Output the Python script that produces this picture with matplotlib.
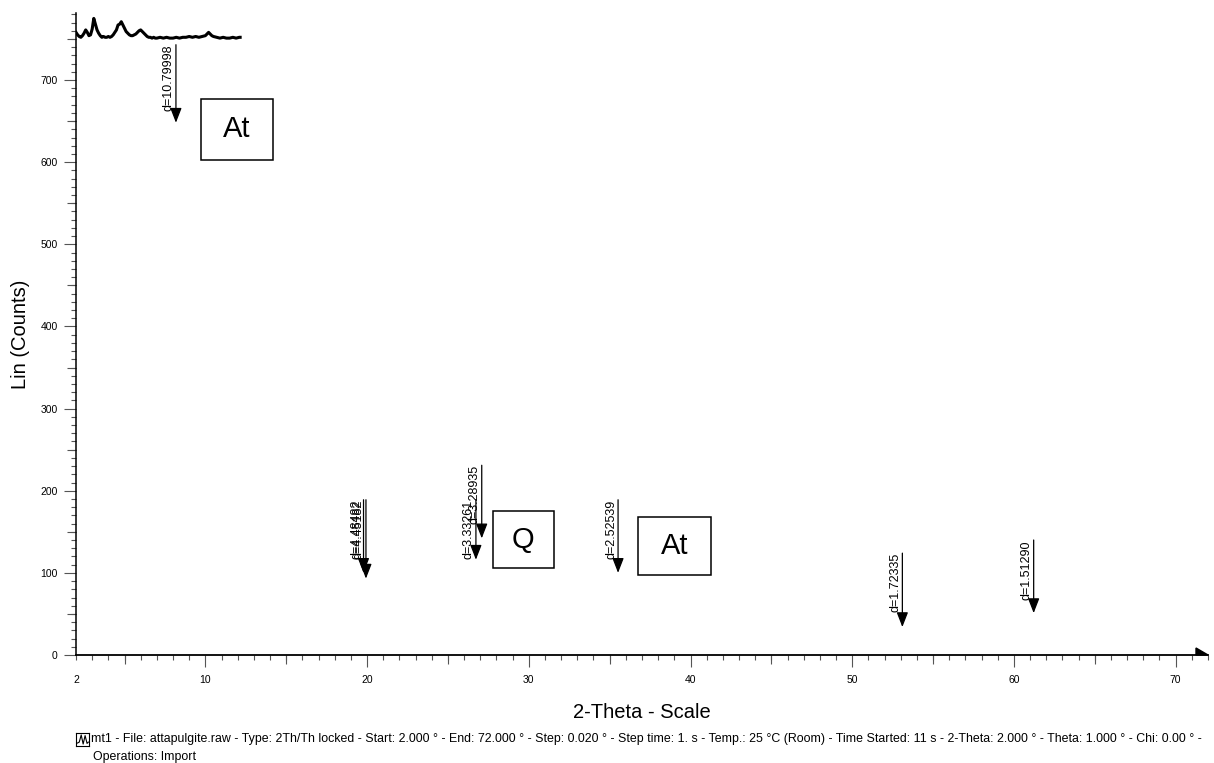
import numpy as np
import matplotlib as mpl
mpl.use('Agg')
import matplotlib.pyplot as plt
from matplotlib.ticker import MultipleLocator, FixedLocator, FuncFormatter, NullFormatter
from matplotlib.patches import Rectangle, Polygon
import matplotlib.transforms as mtrans

plt.rcParams['font.family'] = ['Liberation Sans', 'DejaVu Sans']

# measured pattern (only the low-angle part is drawn in the reference)
two_theta = [2.0, 2.1, 2.2, 2.3, 2.4, 2.5, 2.6, 2.7, 2.8, 2.9,
             3.0, 3.1, 3.2, 3.3, 3.4, 3.5, 3.6, 3.7, 3.8, 3.9,
             4.0, 4.1, 4.2, 4.3, 4.4, 4.5, 4.6, 4.7, 4.8, 4.9,
             5.0, 5.1, 5.2, 5.3, 5.4, 5.5, 5.6, 5.7, 5.8, 5.9,
             6.0, 6.1, 6.2, 6.3, 6.4, 6.5, 6.6, 6.7, 6.8, 6.9,
             7.0, 7.2, 7.4, 7.6, 7.8, 8.0, 8.2, 8.4, 8.6, 8.8,
             9.0, 9.2, 9.4, 9.6, 9.8, 10.0, 10.1, 10.2, 10.3, 10.4,
             10.5, 10.7, 10.9, 11.1, 11.3, 11.5, 11.7, 11.9, 12.1, 12.15]
counts = [758, 755, 753, 752, 754, 757, 761, 758, 754, 755,
          762, 775, 768, 761, 757, 754, 752, 753, 752, 752,
          753, 752, 753, 755, 758, 761, 767, 768, 771, 767,
          763, 759, 757, 755, 754, 754, 755, 756, 758, 760,
          761, 759, 757, 755, 753, 752, 752, 751, 752, 751,
          751, 752, 751, 752, 751, 751, 752, 751, 752, 752,
          753, 752, 753, 752, 753, 754, 756, 758, 756, 754,
          753, 752, 751, 752, 751, 751, 752, 751, 752, 752]

# d-spacing markers
peak_labels = ['d=10.79998', 'd=4.48482', 'd=4.45182', 'd=3.33261', 'd=3.28935',
               'd=2.52539', 'd=1.72335', 'd=1.51290']
peak_pos = [8.18, 19.78, 19.93, 26.73, 27.09, 35.52, 53.10, 61.22]
peak_top = [743, 189, 189, 189, 231, 189, 124, 140]
peak_tip = [648, 100, 93, 116, 142, 100, 34, 51]

# phase labels
phase_labels = ['At', 'Q', 'At']
phase_x = [11.95, 29.66, 39.0]
phase_y = [640, 140.6, 132.7]

x_ticks = [2, 10, 20, 30, 40, 50, 60, 70]
footer1 = ('mt1 - File: attapulgite.raw - Type: 2Th/Th locked - Start: 2.000 ° - End: 72.000 ° - '
           'Step: 0.020 ° - Step time: 1. s - Temp.: 25 °C (Room) - Time Started: 11 s - '
           '2-Theta: 2.000 ° - Theta: 1.000 ° - Chi: 0.00 ° -')
footer2 = 'Operations: Import'

W, H = 1214, 763
px_per_count = 0.8214
ymax = 782
fig = plt.figure(figsize=(W / 100, H / 100), dpi=100)
ax_h = ymax * px_per_count
ax = fig.add_axes([76 / W, 108 / H, 1132 / W, ax_h / H])

ax.plot(two_theta, counts, color='black', lw=2.2)

off = mtrans.offset_copy(ax.transData, fig=fig, x=-1, y=0, units='dots')
for lab, x, top, tip in zip(peak_labels, peak_pos, peak_top, peak_tip):
    ax.annotate('', xy=(x, tip), xytext=(x, top),
                arrowprops=dict(arrowstyle='-|>,head_length=0.9,head_width=0.35',
                                mutation_scale=10, color='black', lw=0.9,
                                shrinkA=0, shrinkB=0))
    ax.text(x, top, lab, rotation=90, ha='right', va='top', fontsize=9, transform=off)

box_w = [4.45, 3.77, 4.5]
box_h = [75, 69, 71]
for lab, x, y, bw, bh in zip(phase_labels, phase_x, phase_y, box_w, box_h):
    ax.add_patch(Rectangle((x - bw / 2, y - bh / 2), bw, bh, fill=False, ec='black', lw=1.1))
    ax.text(x, y, lab, ha='center', va='center', fontsize=21)

ax.set_xlim(2, 72)
ax.set_ylim(0, ymax)
for s in ['top', 'right']:
    ax.spines[s].set_visible(False)
ax.spines['left'].set_linewidth(1.1)
ax.spines['bottom'].set_linewidth(1.3)

ax.xaxis.set_major_locator(FixedLocator(x_ticks[1:]))
ax.xaxis.set_minor_locator(MultipleLocator(1))
ax.xaxis.set_minor_formatter(FuncFormatter(lambda v, p: '2' if abs(v - 2) < 1e-6 else ''))
ax.yaxis.set_major_locator(MultipleLocator(100))
ax.yaxis.set_minor_locator(MultipleLocator(10))
ax.yaxis.set_minor_formatter(NullFormatter())
tc = '#555555'
ax.tick_params(axis='x', which='major', length=8.6, width=0.8, color=tc, pad=6.0, labelsize=7.5)
ax.tick_params(axis='x', which='minor', length=3.6, width=0.8, color=tc, pad=11.0, labelsize=7.5)
ax.tick_params(axis='y', which='major', length=8.6, width=0.8, color=tc, pad=4.5, labelsize=7.5)
ax.tick_params(axis='y', which='minor', length=3.8, width=0.8, color=tc)

# medium ticks at the 5 / 50 marks
secx = ax.secondary_xaxis('bottom')
secx.set_xticks(np.arange(5, 71, 10))
secx.tick_params(length=6.5, width=0.8, color=tc, labelbottom=False)
secx.spines['bottom'].set_visible(False)
secy = ax.secondary_yaxis('left')
secy.set_yticks(np.arange(50, 781, 100))
secy.tick_params(length=6.5, width=0.8, color=tc, labelleft=False)
secy.spines['left'].set_visible(False)

# arrow head at the end of the x axis
aw, ah = 12 / 1132, 7 / ax_h
ax.add_patch(Polygon([(1 - aw, 0), (1 - aw, ah), (1, 0)], closed=True, color='black',
                     transform=ax.transAxes, clip_on=False))

ax.set_xlabel('2-Theta - Scale', fontsize=14.5)
ax.xaxis.set_label_coords(0.5, -(703 - 655) / ax_h)
ax.set_ylabel('Lin (Counts)', fontsize=14.5)
ax.yaxis.set_label_coords(-(76 - 30) / 1132, 0.5)

# footer with the scan icon
icon = fig.add_axes([76 / W, 1 - 746 / H, 13 / W, 13 / H])
icon.plot([0.05, 0.25, 0.4, 0.55, 0.7, 0.85, 0.95], [0.2, 0.3, 0.85, 0.15, 0.8, 0.2, 0.3],
          color='black', lw=0.8)
icon.set_xlim(0, 1)
icon.set_ylim(0, 1)
icon.set_xticks([])
icon.set_yticks([])
for s in icon.spines.values():
    s.set_linewidth(0.8)
fig.text(91 / W, 1 - 739 / H, footer1, fontsize=8.9, va='center')
fig.text(93 / W, 1 - 757 / H, footer2, fontsize=8.9, va='center')

plt.savefig('out.png', dpi=100)
